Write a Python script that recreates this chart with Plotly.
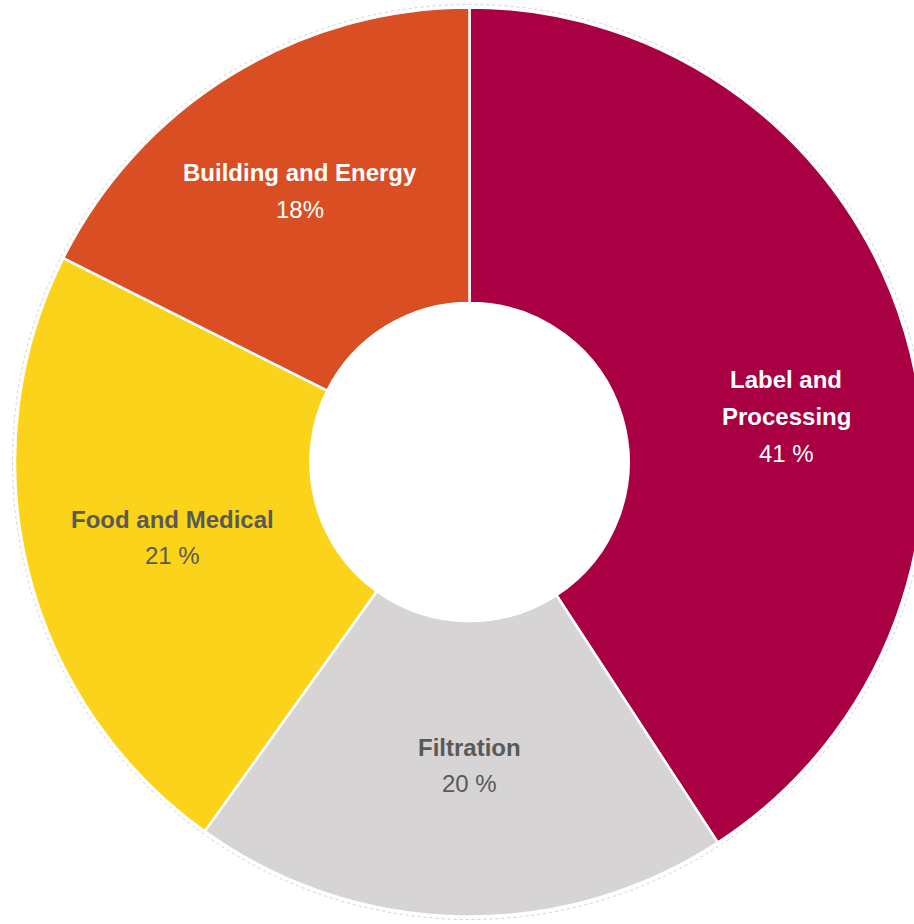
import plotly.graph_objects as go

categories = ["Label and Processing", "Filtration", "Food and Medical", "Building and Energy"]
shares = [40.8, 19.1, 22.5, 17.6]
name_lines = [["Label and", "Processing"], ["Filtration"], ["Food and Medical"], ["Building and Energy"]]
pct_labels = ["41 %", "20 %", "21 %", "18%"]

# Styles
colors = ["#A80042", "#D6D4D5", "#FBD31A", "#D94E23"]
text_colors = ["#FFFFFF", "#595959", "#595959", "#FFFFFF"]
W, H = 924, 924
# pie geometry in figure pixels
cx, cy, r = 470, 462, 455
# label block anchor (pixel centre of first line) in figure pixels
label_pos = [(786, 380), (469, 747), (172, 519), (300, 173)]
line_gap = 36.5

fig = go.Figure(go.Pie(
    labels=categories,
    values=shares,
    hole=0.35,
    sort=False,
    direction="clockwise",
    rotation=0,
    marker=dict(colors=colors, line=dict(color="#FFFFFF", width=2.5)),
    textinfo="none",
    hoverinfo="label+percent",
    showlegend=False,
    domain=dict(x=[(cx - r) / W, min(1, (cx + r) / W)], y=[1 - (cy + r) / H, 1 - (cy - r) / H]),
))

annotations = []
for lines, pct, (px, py), tc in zip(name_lines, pct_labels, label_pos, text_colors):
    allines = [(l, True) for l in lines] + [(pct, False)]
    for i, (txt, bold) in enumerate(allines):
        yy = py + i * line_gap
        annotations.append(dict(
            x=px / W, y=1 - yy / H, xref="paper", yref="paper",
            text=f"<b>{txt}</b>" if bold else txt,
            showarrow=False, xanchor="center", yanchor="middle",
            font=dict(family="Liberation Sans, Arial, sans-serif", size=24, color=tc),
        ))

ro = r + 2.5
fig.update_layout(
    width=W, height=H,
    margin=dict(l=0, r=0, t=0, b=0),
    paper_bgcolor="#FFFFFF",
    plot_bgcolor="#FFFFFF",
    annotations=annotations,
    shapes=[dict(
        type="circle", xref="paper", yref="paper", layer="below",
        x0=(cx - ro) / W, x1=(cx + ro) / W, y0=1 - (cy + ro) / H, y1=1 - (cy - ro) / H,
        line=dict(color="rgba(190,190,190,0.7)", width=1, dash="dot"),
    )],
)

fig.write_html(
    "out.html",
    config={"displayModeBar": False},
    post_script="document.body.style.margin='0';document.body.style.overflow='hidden';document.documentElement.style.overflow='hidden';",
)
